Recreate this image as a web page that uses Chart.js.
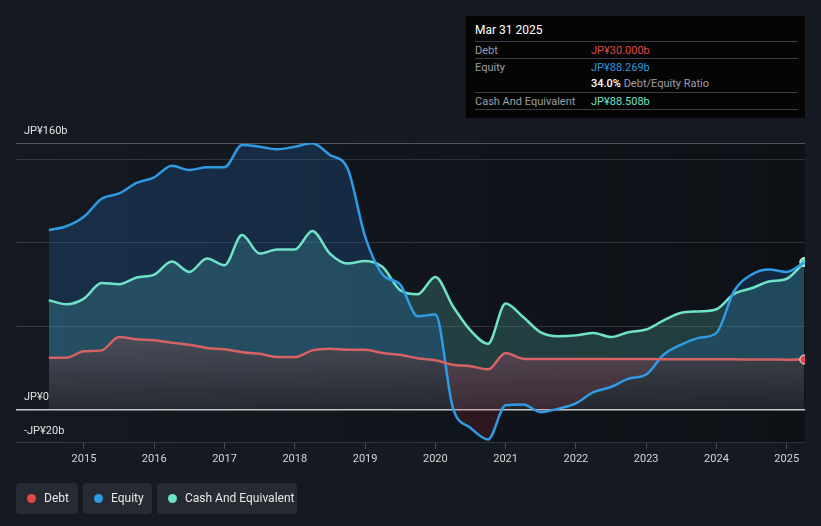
<!DOCTYPE html>
<html>
<head>
<meta charset="utf-8">
<script src="https://cdn.jsdelivr.net/npm/chart.js@4.4.1/dist/chart.umd.min.js"></script>
<style>
  html, body { margin:0; padding:0; background:#151a22; }
  body { width:821px; height:526px; position:relative; overflow:hidden; font-family:Roboto, "Noto Sans", sans-serif; }
  #wrap { position:absolute; left:0; top:0; width:821px; height:526px; }
  #tip { position:absolute; left:466px; top:16px; width:339px; height:102px; background:#050505; font-size:11px; color:#9a9ea6; }
  #tip .t { position:absolute; left:9px; top:7px; color:#fff; font-size:12px; }
  #tip .row { position:absolute; left:9px; width:323px; height:17px; border-top:1px solid #3a3d44; }
  #tip .row span { position:absolute; top:2px; }
  #tip .lab { left:0; }
  #tip .val { left:116px; }
  #tip .end { position:absolute; left:9px; top:93px; width:323px; border-top:1px solid #3a3d44; }
  #legend { position:absolute; left:16px; top:483px; }
  .lg { position:absolute; top:0; height:31px; background:#262b33; border-radius:4px; color:#e6e6e6; font-size:12px; line-height:31px; }
  .lg i { position:absolute; left:11px; top:11px; width:9px; height:9px; border-radius:50%; }
  .lg span { position:absolute; left:28px; }
</style>
</head>
<body>
<div id="wrap"><canvas id="grafica"></canvas></div>

<div id="tip">
  <div class="t">Mar 31 2025</div>
  <div class="row" style="top:25px"><span class="lab">Debt</span><span class="val" style="color:#e0474a">JP¥30.000b</span></div>
  <div class="row" style="top:42px"><span class="lab">Equity</span><span class="val" style="color:#2e95de">JP¥88.269b</span></div>
  <div class="row" style="top:59px;border-top:none"><span class="val"><b style="color:#fff;font-weight:500">34.0%</b> Debt/Equity Ratio</span></div>
  <div class="row" style="top:76px"><span class="lab">Cash And Equivalent</span><span class="val" style="color:#6fe0c6">JP¥88.508b</span></div>
  <div class="end"></div>
</div>

<div id="legend">
  <div class="lg" style="left:0;width:62px"><i style="background:#e64646"></i><span>Debt</span></div>
  <div class="lg" style="left:67px;width:69px"><i style="background:#2d9be6"></i><span>Equity</span></div>
  <div class="lg" style="left:141px;width:140px"><i style="background:#6ee2c9"></i><span>Cash And Equivalent</span></div>
</div>

<script>
// fechas de cierre trimestral (año-mes)
const fechas = ['2014-06','2014-09','2014-12','2015-03','2015-06','2015-09','2015-12','2016-03','2016-06','2016-09','2016-12',
  '2017-03','2017-06','2017-09','2017-12','2018-03','2018-06','2018-09','2018-12','2019-03','2019-06','2019-09','2019-12',
  '2020-03','2020-06','2020-09','2020-12','2021-03','2021-06','2021-09','2021-12','2022-03','2022-06','2022-09','2022-12',
  '2023-03','2023-06','2023-09','2023-12','2024-03','2024-06','2024-09','2024-12','2025-03'];

// valores en miles de millones de yenes
const deuda = [31.1,31.1,34.9,35.5,43.5,42.2,41.5,40.1,38.9,36.9,36.1,
  34.4,33.4,31.5,31.5,35.5,36.5,35.9,35.9,33.9,32.8,30.7,29.5,
  26.9,26.0,24.1,33.9,30.5,30.3,30.3,30.3,30.3,30.3,30.3,30.3,
  30.2,30.2,30.1,30.1,30.1,30.0,30.0,29.9,30.0];
const patrimonio = [107.7,110.0,115.7,126.5,129.7,136.0,139.4,146.4,143.8,145.4,145.4,
  158.8,157.8,156.2,157.8,159.8,152.8,144.8,104.0,81.0,75.0,56.0,57.0,
  1.0,-11.0,-18.0,2.5,3.0,-1.6,0.5,3.7,10.4,13.5,18.5,21.0,
  33.0,39.0,43.0,46.0,71.0,81.0,84.0,82.6,88.3];
const efectivo = [65.6,63.2,66.6,76.0,75.2,79.2,81.0,88.8,82.6,90.6,86.6,
  104.7,93.6,96.0,96.0,107.2,93.6,87.6,89.2,85.5,71.6,69.2,79.6,
  62.0,47.5,39.5,63.6,55.5,46.3,44.0,44.5,45.9,43.5,46.4,48.0,
  53.5,58.1,58.9,60.2,69.4,72.8,76.8,78.5,88.5];

const anios = [2015,2016,2017,2018,2019,2020,2021,2022,2023,2024,2025];
const marcasY = [-20,0,50,100,150,160];
const etiquetasY = {'-20':'-JP¥20b','0':'JP¥0','160':'JP¥160b'};

function aDecimal(f){
  let p = f.split('-');
  return Number(p[0]) + Number(p[1])/12;
}
function puntos(arr){
  return arr.map((v,i)=>({x:aDecimal(fechas[i]), y:v}));
}
function radioFinal(arr){
  return arr.map((v,i)=> i==arr.length-1 ? 4.5 : 0);
}

// degradado gris bajo la deuda
function grisDeuda(ctx){
  let ch = ctx.chart;
  if(!ch.chartArea) return 'rgba(120,125,140,0.3)';
  let y = ch.scales.y;
  let g = ch.ctx.createLinearGradient(0, y.getPixelForValue(45), 0, y.getPixelForValue(0));
  g.addColorStop(0,'rgba(150,155,172,0.42)');
  g.addColorStop(1,'rgba(150,155,172,0.14)');
  return g;
}

const fondo = {
  id:'fondo',
  beforeDraw(chart){
    let c = chart.ctx, a = chart.chartArea;
    c.save();
    let g = c.createLinearGradient(a.left,0,a.right,0);
    g.addColorStop(0,'rgba(0,0,0,0)');
    g.addColorStop(1,'rgba(0,0,0,0.35)');
    c.fillStyle = g;
    c.fillRect(a.left,a.top,a.right-a.left,a.bottom-a.top);
    c.restore();
  }
};

const textoY = {
  id:'textoY',
  afterDraw(chart){
    let c = chart.ctx, y = chart.scales.y;
    c.save();
    c.font = '11px Roboto';
    c.fillStyle = '#e2e2e2';
    c.textBaseline = 'middle';
    for (let k in etiquetasY){
      c.fillText(etiquetasY[k], chart.chartArea.left+8, y.getPixelForValue(Number(k))-12);
    }
    c.restore();
  }
};

const grafica = new Chart(document.getElementById('grafica'),{
  type:'line',
  data:{
    datasets:[
      {
        label:'Debt',
        data:puntos(deuda),
        borderColor:'rgb(214,98,100)',
        backgroundColor:grisDeuda,
        fill:{target:'origin'},
        pointRadius:radioFinal(deuda),
        pointBackgroundColor:'#e0474a',
        pointBorderColor:'#f4f4f4',
        pointBorderWidth:1,
        borderWidth:2.5
      },
      {
        label:'Equity',
        data:puntos(patrimonio),
        borderColor:'rgb(46,155,228)',
        fill:{target:0, above:'rgba(40,130,220,0.2)', below:'rgba(190,45,55,0.16)'},
        pointRadius:0,
        borderWidth:2.5
      },
      {
        label:'Cash And Equivalent',
        data:puntos(efectivo),
        borderColor:'rgb(112,226,200)',
        backgroundColor:'rgba(100,215,200,0.22)',
        fill:{target:0},
        pointRadius:radioFinal(efectivo),
        pointBackgroundColor:'#6fe0c6',
        pointBorderColor:'#f4f4f4',
        pointBorderWidth:1,
        borderWidth:2.5
      }
    ]
  },
  options:{
    responsive:true,
    maintainAspectRatio:false,
    animation:false,
    layout:{padding:{top:143,left:16,right:16,bottom:56}},
    elements:{line:{cubicInterpolationMode:'monotone'}},
    plugins:{legend:{display:false},tooltip:{enabled:false},filler:{drawTime:'beforeDatasetsDraw'}},
    scales:{
      x:{
        type:'linear',
        min:2014.033,
        max:2025.26,
        afterBuildTicks(s){ s.ticks = anios.map(v=>({value:v})); },
        ticks:{color:'#d6d6d6',font:{family:'Roboto',size:11},padding:4,maxRotation:0,
          callback:v=>String(v)},
        grid:{drawOnChartArea:false,drawTicks:true,tickLength:6,color:'#454a53'},
        border:{display:false}
      },
      y:{
        min:-20,
        max:160,
        afterBuildTicks(s){ s.ticks = marcasY.map(v=>({value:v})); },
        ticks:{display:false},
        grid:{drawTicks:false,
          color:c=> c.tick.value==0 ? '#c9c9c9' : (c.tick.value==160 ? 'rgba(255,255,255,0.28)' : 'rgba(255,255,255,0.13)'),
          lineWidth:c=> c.tick.value==0 ? 1.5 : 1},
        border:{display:false}
      }
    }
  },
  plugins:[fondo,textoY]
});
</script>
</body>
</html>
